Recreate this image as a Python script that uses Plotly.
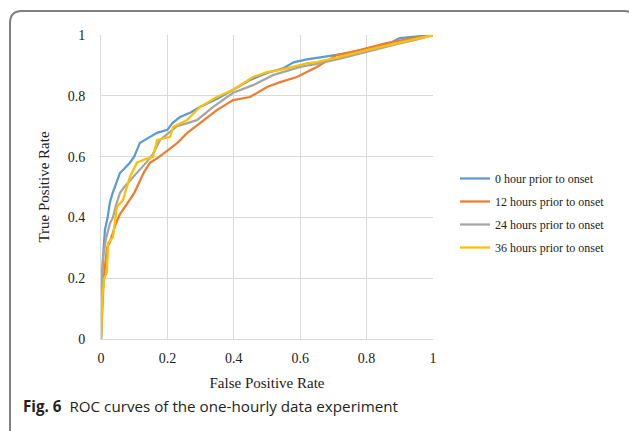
import plotly.graph_objects as go

# ---- data ----
series_names = ["0 hour prior to onset", "12 hours prior to onset",
                "24 hours prior to onset", "36 hours prior to onset"]

fpr_0h = [0, 0.002, 0.004, 0.008, 0.012, 0.02, 0.027, 0.035, 0.042, 0.05, 0.057, 0.07, 0.087, 0.1,
          0.117, 0.14, 0.169, 0.2, 0.215, 0.238, 0.27, 0.298, 0.35, 0.398, 0.449, 0.5, 0.548, 0.58,
          0.62, 0.68, 0.74, 0.82, 0.87, 0.9, 0.95, 1]
tpr_0h = [0, 0.1, 0.22, 0.3, 0.36, 0.40, 0.45, 0.48, 0.50, 0.52, 0.546, 0.56, 0.58, 0.6,
          0.645, 0.66, 0.678, 0.688, 0.71, 0.73, 0.745, 0.763, 0.79, 0.82, 0.852, 0.875, 0.89, 0.91,
          0.92, 0.93, 0.94, 0.96, 0.973, 0.99, 0.995, 1]

fpr_12h = [0, 0.003, 0.007, 0.012, 0.018, 0.027, 0.036, 0.045, 0.057, 0.07, 0.087, 0.1, 0.117, 0.13,
           0.148, 0.17, 0.2, 0.23, 0.259, 0.298, 0.349, 0.398, 0.449, 0.5, 0.54, 0.59, 0.65, 0.71,
           0.78, 0.86, 0.94, 1]
tpr_12h = [0, 0.08, 0.17, 0.24, 0.30, 0.32, 0.35, 0.38, 0.41, 0.43, 0.457, 0.48, 0.52, 0.55,
           0.58, 0.595, 0.62, 0.645, 0.677, 0.71, 0.753, 0.786, 0.796, 0.829, 0.845, 0.862, 0.895, 0.934,
           0.95, 0.973, 0.99, 1]

fpr_24h = [0, 0.001, 0.003, 0.006, 0.015, 0.027, 0.036, 0.045, 0.057, 0.07, 0.087, 0.117, 0.14, 0.157,
           0.178, 0.2, 0.229, 0.26, 0.289, 0.337, 0.398, 0.458, 0.518, 0.6, 0.65, 0.72, 0.8, 0.89, 0.95, 1]
tpr_24h = [0, 0.1, 0.19, 0.27, 0.33, 0.38, 0.40, 0.44, 0.48, 0.50, 0.52, 0.556, 0.585, 0.61,
           0.655, 0.675, 0.70, 0.71, 0.72, 0.763, 0.81, 0.835, 0.868, 0.895, 0.905, 0.922, 0.945, 0.97, 0.985, 1]

fpr_36h = [0, 0.002, 0.005, 0.01, 0.018, 0.021, 0.036, 0.048, 0.066, 0.087, 0.108, 0.13, 0.157, 0.169,
           0.208, 0.217, 0.259, 0.298, 0.349, 0.398, 0.458, 0.5, 0.54, 0.578, 0.62, 0.65, 0.72, 0.8, 0.89, 1]
tpr_36h = [0, 0.06, 0.15, 0.2, 0.22, 0.315, 0.335, 0.435, 0.457, 0.533, 0.58, 0.59, 0.60, 0.655,
           0.665, 0.697, 0.72, 0.763, 0.796, 0.82, 0.862, 0.878, 0.885, 0.895, 0.907, 0.911, 0.928, 0.95, 0.973, 1]

tick_vals = [0, 0.2, 0.4, 0.6, 0.8, 1]
tick_text = ["0", "0.2", "0.4", "0.6", "0.8", "1"]

colors = ["#5B9BD5", "#ED7D31", "#A5A5A5", "#FFC000"]

# ---- figure ----
W, H = 629, 431
L, R, T, B = 101, 433, 35, 339  # plot area in px

fig = go.Figure()
for i, (name, xs, ys, c) in enumerate(zip(series_names,
                           [fpr_0h, fpr_12h, fpr_24h, fpr_36h],
                           [tpr_0h, tpr_12h, tpr_24h, tpr_36h], colors)):
    fig.add_trace(go.Scatter(x=xs, y=ys, mode="lines", name=name, legendgroup=f"g{i}",
                             line=dict(color=c, width=2.25)))

serif = "Times New Roman, Liberation Serif, serif"
axis_common = dict(range=[0, 1], tickvals=tick_vals, ticktext=tick_text,
                   showgrid=True, gridcolor="#D9D9D9", gridwidth=1,
                   zeroline=False, showline=True, linecolor="#D9D9D9", linewidth=1,
                   automargin=False,
                   tickfont=dict(family=serif, size=14, color="#222"),
                   title_font=dict(family=serif, size=15, color="#222"))

fig.update_xaxes(**axis_common, title_text="False Positive Rate", title_standoff=12,
                 ticklabelstandoff=6)
fig.update_yaxes(**axis_common, title_text="True Positive Rate", title_standoff=14,
                 ticklabelstandoff=12)

def px2paper(px, py):
    return (px - L) / (R - L), (B - py) / (B - T)

# rounded frame (top and left visible; right/bottom run off the page)
x0, y0 = px2paper(10, 445)
x1, y1 = px2paper(10, 23)
cx, cy = px2paper(10, 11)
x2, y2 = px2paper(22, 11)
x3, y3 = px2paper(624, 11)
cx2, cy2 = px2paper(636, 11)
x4, y4 = px2paper(636, 23)
path = (f"M {x0},{y0} L {x1},{y1} Q {cx},{cy} {x2},{y2} L {x3},{y3} "
        f"Q {cx2},{cy2} {x4},{y4}")
fig.add_shape(type="path", xref="paper", yref="paper", path=path,
              line=dict(color="#7F7F7F", width=2), layer="above")

cap_x, cap_y = px2paper(21, 406)
fig.add_annotation(xref="paper", yref="paper", x=cap_x, y=cap_y, xanchor="left", yanchor="middle",
                   showarrow=False,
                   text="<b>Fig. 6</b>  ROC curves of the one-hourly data experiment",
                   font=dict(family="Open Sans, Noto Sans, sans-serif", size=15.2, color="#231F20"))

lx, ly = px2paper(455, 213)
fig.update_layout(
    width=W, height=H,
    margin=dict(l=L, r=W - R, t=T, b=H - B, pad=0, autoexpand=False),
    paper_bgcolor="white", plot_bgcolor="white",
    legend=dict(x=lx, y=ly, xanchor="left", yanchor="middle",
                font=dict(family=serif, size=12, color="#222"),
                bgcolor="rgba(0,0,0,0)", itemwidth=30, tracegroupgap=4),
    showlegend=True,
)

fig.write_html("out.html", config={"displayModeBar": False},
               post_script="document.body.style.margin='0';document.body.style.overflow='hidden';")
